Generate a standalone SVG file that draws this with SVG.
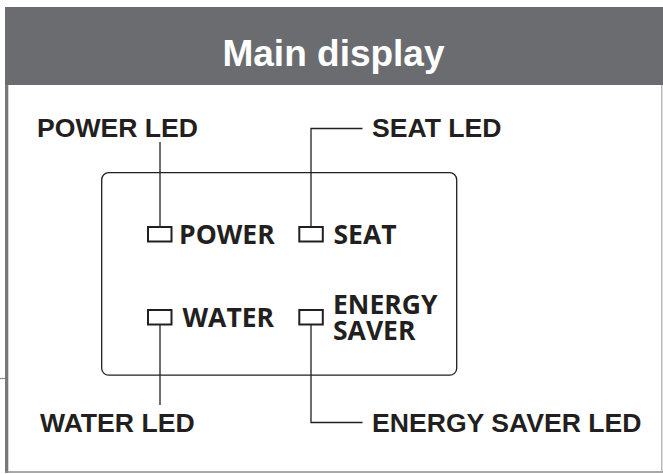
<svg xmlns="http://www.w3.org/2000/svg" width="663" height="474" viewBox="0 0 663 474">
<style>
.lbl{font-family:"Liberation Sans",Arial,sans-serif;font-weight:bold;font-size:26.6px;fill:#231f20}
.pnl{font-family:"Open Sans","Noto Sans",sans-serif;font-weight:bold;font-size:26.5px;fill:#231f20}
.ln{fill:none;stroke:#231f20;stroke-width:1.3}
.led{fill:#fff;stroke:#231f20;stroke-width:2}
</style>
<rect width="663" height="474" fill="#fff"/>
<g id="frame">
<rect x="5" y="7" width="658" height="78" fill="#6b6c70"/>
<rect x="5" y="85" width="3.3" height="388" fill="#77787b"/>
<line x1="5" y1="472" x2="663" y2="472" stroke="#8a8b8e" stroke-width="1.5"/>
<line x1="661.8" y1="85" x2="661.8" y2="473" stroke="#a7a8aa" stroke-width="1.2"/>
<line x1="0" y1="378.5" x2="5" y2="378.5" stroke="#8a8b8e" stroke-width="1.2"/>
<text x="333.5" y="66" text-anchor="middle" font-family="Liberation Sans,Arial,sans-serif" font-weight="bold" font-size="37" fill="#fff">Main display</text>
</g>
<g id="panel">
<rect x="101.7" y="172.7" width="355" height="202.5" rx="7" class="ln"/>
</g>
<g id="connectors">
<path class="ln" d="M160 142V227"/>
<path class="ln" d="M362.5 128.5H311V227"/>
<path class="ln" d="M160 325V405"/>
<path class="ln" d="M311 325V422.5H362.5"/>
</g>
<g id="power">
<rect class="led" x="148" y="227" width="23.5" height="14.5"/>
<text class="pnl" x="179" y="243.5">POWER</text>
</g>
<g id="seat">
<rect class="led" x="299.3" y="227" width="23.5" height="14.5"/>
<text class="pnl" x="333.5" y="243.5">SEAT</text>
</g>
<g id="water">
<rect class="led" x="148" y="310" width="23.5" height="14.5"/>
<text class="pnl" x="182.5" y="327">WATER</text>
</g>
<g id="energy">
<rect class="led" x="299.3" y="310" width="23.5" height="14.5"/>
<text class="pnl"><tspan x="333" y="313.5">ENERGY</tspan><tspan x="333" y="339.5">SAVER</tspan></text>
</g>
<g id="power-led"><text class="lbl" x="37" y="137">POWER LED</text></g>
<g id="seat-led"><text class="lbl" x="372" y="137">SEAT LED</text></g>
<g id="water-led"><text class="lbl" x="40" y="432">WATER LED</text></g>
<g id="energy-saver-led"><text class="lbl" x="372" y="432">ENERGY SAVER LED</text></g>
</svg>
